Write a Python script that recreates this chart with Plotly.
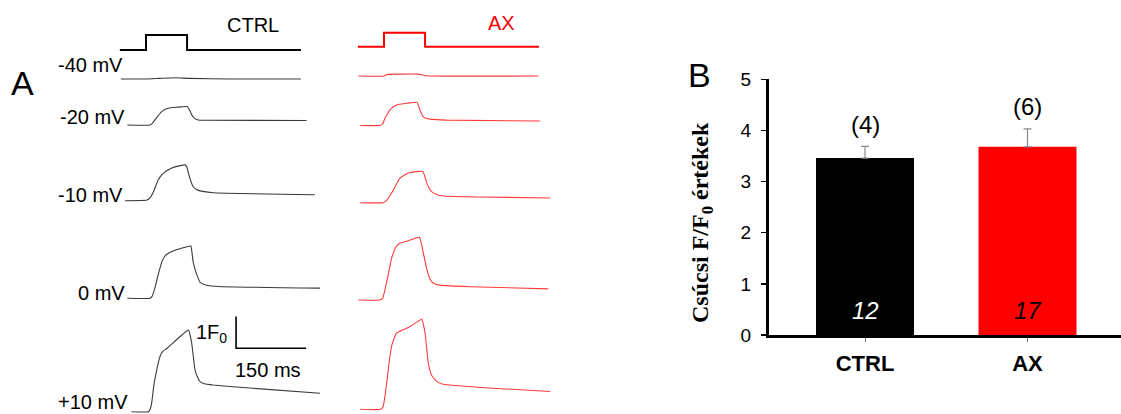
import plotly.graph_objects as go

# ---------------- data ----------------
voltages = ["-40 mV", "-20 mV", "-10 mV", "0 mV", "+10 mV"]

# Ca2+ transients: time (ms from pulse onset) and F/F0, CTRL
ctrl_m40_t = [-54, 0, 30, 62, 94, 180, 332]
ctrl_m40_f = [1.00, 1.00, 1.02, 1.04, 1.02, 1.00, 1.00]
ctrl_m20_t = [-40, 9, 14, 19, 30, 38, 48, 66, 88, 93, 98, 104, 112, 123, 344]
ctrl_m20_f = [1.00, 1.00, 1.06, 1.16, 1.37, 1.47, 1.53, 1.56, 1.58, 1.48, 1.32, 1.21, 1.16, 1.15, 1.14]
ctrl_m10_t = [-45, 2, 9, 16, 26, 34, 41, 50, 58, 84, 88, 91, 96, 101, 108, 116, 144, 362]
ctrl_m10_f = [1.00, 1.02, 1.10, 1.28, 1.65, 1.82, 1.91, 1.99, 2.05, 2.13, 2.05, 1.86, 1.62, 1.44, 1.35, 1.31, 1.25, 1.19]
ctrl_0_t = [-40, 9, 13, 19, 26, 34, 40, 45, 58, 96, 98, 101, 105, 109, 116, 130, 155, 373]
ctrl_0_f = [1.00, 1.00, 1.06, 1.32, 1.74, 2.15, 2.32, 2.39, 2.49, 2.65, 2.50, 2.15, 1.92, 1.74, 1.50, 1.41, 1.37, 1.32]
ctrl_p10_t = [-31, 5, 9, 12, 17, 23, 30, 36, 45, 91, 94, 98, 105, 111, 116, 125, 144, 201, 373]
ctrl_p10_f = [1.00, 1.00, 1.08, 1.26, 1.85, 2.32, 2.74, 2.90, 3.00, 3.58, 3.45, 3.16, 2.32, 2.07, 1.95, 1.88, 1.84, 1.77, 1.58]

# AX
ax_m40_t = [-55, 0, 6, 34, 74, 88, 331]
ax_m40_f = [1.00, 1.00, 1.05, 1.06, 1.06, 1.01, 1.00]
ax_m20_t = [-51, -9, -3, 2, 8, 13, 20, 27, 38, 49, 71, 74, 77, 84, 90, 99, 134, 334]
ax_m20_f = [1.00, 1.00, 1.04, 1.23, 1.38, 1.49, 1.59, 1.65, 1.68, 1.70, 1.73, 1.62, 1.49, 1.28, 1.23, 1.20, 1.17, 1.14]
ax_m10_t = [-51, -2, 4, 9, 14, 20, 27, 34, 45, 56, 83, 87, 92, 97, 102, 112, 127, 206, 356]
ax_m10_f = [1.00, 1.00, 1.05, 1.14, 1.25, 1.40, 1.60, 1.77, 1.88, 1.95, 1.99, 1.85, 1.61, 1.45, 1.35, 1.26, 1.21, 1.18, 1.15]
ax_0_t = [-55, -9, -3, 2, 7, 11, 17, 24, 29, 34, 50, 76, 84, 92, 97, 102, 110, 120, 184, 352]
ax_0_f = [1.00, 1.00, 1.05, 1.32, 1.65, 1.95, 2.35, 2.63, 2.73, 2.79, 2.86, 2.98, 2.50, 1.95, 1.72, 1.58, 1.50, 1.47, 1.42, 1.35]
ax_p10_t = [-51, -7, -2, 2, 6, 9, 13, 17, 22, 27, 40, 56, 81, 84, 88, 95, 100, 106, 116, 127, 206, 356]
ax_p10_f = [1.00, 1.00, 1.08, 1.40, 1.85, 2.24, 2.70, 3.03, 3.25, 3.40, 3.50, 3.61, 3.84, 3.70, 3.40, 2.45, 2.15, 1.98, 1.85, 1.79, 1.69, 1.56]

# voltage step protocol (ms, relative amplitude)
step_t = [-56, 0, 0, 88, 88, 332]
step_v = [0, 0, 1, 1, 0, 0]

# scale bar: 150 ms x 1 F0
scalebar_t = [193, 193, 343]
scalebar_f = [4, 3, 3]

# panel B
groups = ["CTRL", "AX"]
peak_mean = [3.46, 3.68]
peak_sem = [0.23, 0.35]
n_cells = [12, 17]
n_animals = [4, 6]

# ---------------- layout constants (pixels) ----------------
W, H = 1121, 414
K = 0.4667          # px per ms
S = 31.7            # px per F0
FONT = "Liberation Sans, Arial, sans-serif"
SERIF = "Liberation Serif, Times New Roman, serif"
BLACK_TR = "#3a3a3a"
RED_TR = "#ff3b3b"
RED = "#ff0000"

cols = [
    dict(name="CTRL", onset=146, dom=(100, 330), bases=[79, 125, 200.7, 298.3, 411.7],
         step_base=50, step_h=15, color=BLACK_TR, step_color="#000000",
         data=[(ctrl_m40_t, ctrl_m40_f), (ctrl_m20_t, ctrl_m20_f), (ctrl_m10_t, ctrl_m10_f),
               (ctrl_0_t, ctrl_0_f), (ctrl_p10_t, ctrl_p10_f)]),
    dict(name="AX", onset=384, dom=(340, 560), bases=[76, 125.5, 202.7, 300, 409.3],
         step_base=46.7, step_h=14, color=RED_TR, step_color=RED,
         data=[(ax_m40_t, ax_m40_f), (ax_m20_t, ax_m20_f), (ax_m10_t, ax_m10_f),
               (ax_0_t, ax_0_f), (ax_p10_t, ax_p10_f)]),
]

fig = go.Figure()
layout = dict(
    width=W, height=H, margin=dict(l=0, r=0, t=0, b=0, pad=0, autoexpand=False),
    paper_bgcolor="white", plot_bgcolor="rgba(0,0,0,0)", showlegend=False,
    font=dict(family=FONT, color="black"),
)

yidx = 0
for ci, col in enumerate(cols):
    xname = "x" if ci == 0 else "x2"
    xkey = "xaxis" if ci == 0 else "xaxis2"
    d0, d1 = col["dom"]
    layout[xkey] = dict(domain=[d0 / W, d1 / W],
                        range=[(d0 - col["onset"]) / K, (d1 - col["onset"]) / K],
                        visible=False, fixedrange=True)
    for ri, (t, f) in enumerate(col["data"]):
        yidx += 1
        base = col["bases"][ri]
        layout["yaxis%d" % yidx if yidx > 1 else "yaxis"] = dict(
            domain=[0, 1], range=[1 + (base - H) / S, 1 + base / S],
            visible=False, anchor=xname, fixedrange=True)
        yname = "y%d" % yidx if yidx > 1 else "y"
        fig.add_trace(go.Scatter(x=t, y=f, mode="lines", xaxis=xname, yaxis=yname,
                                 line=dict(color=col["color"], width=1.1, shape="spline", smoothing=0.4),
                                 hoverinfo="skip"))
        if ci == 0 and ri == 4:
            fig.add_trace(go.Scatter(x=scalebar_t, y=scalebar_f, mode="lines",
                                     xaxis=xname, yaxis=yname,
                                     line=dict(color="black", width=1.6),
                                     hoverinfo="skip"))
    # protocol
    yidx += 1
    layout["yaxis%d" % yidx] = dict(
        domain=[0, 1], range=[(col["step_base"] - H) / col["step_h"], col["step_base"] / col["step_h"]],
        visible=False, anchor=xname, fixedrange=True)
    fig.add_trace(go.Scatter(x=step_t, y=step_v, mode="lines", xaxis=xname, yaxis="y%d" % yidx,
                             line=dict(color=col["step_color"], width=2), hoverinfo="skip"))

layout["xaxis"]["anchor"] = "y"
layout["xaxis2"]["anchor"] = "y6"

# ---------------- panel B ----------------
yidx += 1
by = "y%d" % yidx
bx_l, bx_r, c0, step = 769, 1121, 865, 162.5
b_bot, b_top = 335, 79.3
layout["xaxis3"] = dict(
    domain=[bx_l / W, 1], range=[(bx_l - c0) / step, (bx_r - c0) / step],
    type="category", anchor=by, showline=True, linewidth=3, linecolor="black",
    ticks="outside", ticklen=4, tickwidth=1, tickcolor="#777777",
    tickmode="array", tickvals=groups, ticktext=["<b>%s</b>" % g for g in groups],
    tickfont=dict(size=22, family=FONT, color="black"), ticklabelstandoff=3,
    showgrid=False, zeroline=False, fixedrange=True, automargin=False)
layout["yaxis%d" % yidx] = dict(
    domain=[(H - b_bot) / H, (H - b_top) / H], range=[0, 5], anchor="x3",
    showline=True, linewidth=3, linecolor="black",
    ticks="outside", ticklen=5, tickwidth=1.5, tickcolor="black",
    tickvals=[0, 1, 2, 3, 4, 5], tickfont=dict(size=19, family=FONT, color="black"),
    ticklabelstandoff=6, showgrid=False, zeroline=False, fixedrange=True, automargin=False)

fig.add_trace(go.Bar(
    x=groups, y=peak_mean, xaxis="x3", yaxis=by, width=0.603,
    marker=dict(color=["#000000", RED], line=dict(width=0)),
    error_y=dict(type="data", array=peak_sem, arrayminus=[0, 0], symmetric=False,
                 color="#8a8a8a", thickness=1.2, width=4),
    hoverinfo="skip"))

ann = []
def pa(text, x, y, size=20, color="black", xanchor="center", yanchor="middle", family=FONT, **kw):
    ann.append(dict(text=text, x=x / W, y=1 - y / H, xref="paper", yref="paper",
                    showarrow=False, xanchor=xanchor, yanchor=yanchor,
                    font=dict(size=size, color=color, family=family), **kw))

pa("A", 22, 83, size=34)
pa("B", 699, 75, size=34)
pa("CTRL", 253, 25, size=20)
pa("AX", 501.7, 23, size=20, color=RED)
lab_x = [125, 127.3, 125, 127.3, 130]
lab_y = [65, 117, 195, 292.7, 401.7]
for v, lx, ly in zip(voltages, lab_x, lab_y):
    pa(v, lx, ly, size=20, xanchor="right")
pa("1F<sub>0</sub>", 229, 333, size=20, xanchor="right")
pa("150 ms", 268.3, 370, size=20)
pa("<b>Csúcsi F/F<sub>0</sub> értékek</b>", 702, 223, size=24, family=SERIF, textangle=-90)

for g, m, s, n in zip(groups, peak_mean, peak_sem, n_animals):
    ann.append(dict(text="(%d)" % n, x=g, y=m + s, xref="x3", yref=by, showarrow=False,
                    yanchor="middle", yshift=22, font=dict(size=24, family=FONT, color="black")))
for g, n, c in zip(groups, n_cells, ["white", "black"]):
    ann.append(dict(text="<i>%d</i>" % n, x=g, y=0, xref="x3", yref=by, showarrow=False,
                    yanchor="middle", yshift=25, font=dict(size=24, family=FONT, color=c)))

layout["annotations"] = ann
fig.update_layout(**layout)
fig.write_html(
    "out.html",
    config={"displayModeBar": False, "staticPlot": True},
    post_script="document.documentElement.style.margin='0';document.body.style.margin='0';"
                "document.body.style.padding='0';document.body.style.overflow='hidden';"
                "document.documentElement.style.overflow='hidden';",
)
